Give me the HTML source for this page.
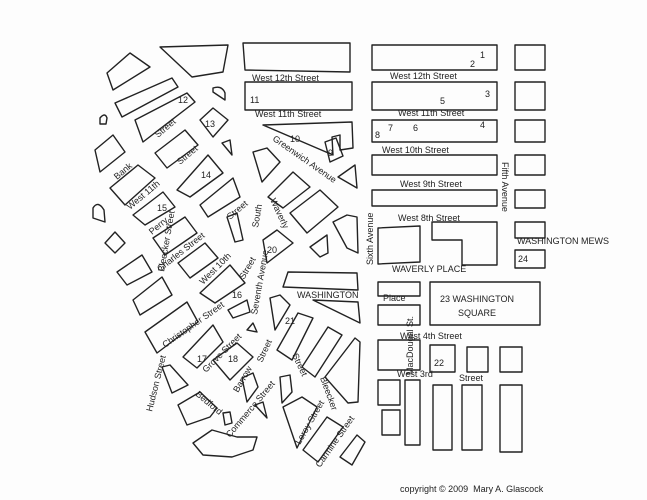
<!DOCTYPE html>
<html><head><meta charset="utf-8"><style>
html,body{margin:0;padding:0;background:#fff}
svg{display:block}
text{font-family:"Liberation Sans",sans-serif;font-size:9px;fill:#222}
</style></head><body>
<svg width="647" height="500" viewBox="0 0 647 500" xmlns="http://www.w3.org/2000/svg">
<rect width="647" height="500" fill="#fdfdfd"/>
<g fill="none" stroke="#222" stroke-width="1.4" stroke-linejoin="round">
<rect x="372" y="45" width="125" height="25"/>
<rect x="515" y="45" width="30" height="25"/>
<rect x="372" y="82" width="125" height="28"/>
<rect x="515" y="82" width="30" height="28"/>
<rect x="372" y="120" width="125" height="22"/>
<rect x="515" y="120" width="30" height="22"/>
<rect x="372" y="155" width="125" height="20"/>
<rect x="515" y="155" width="30" height="20"/>
<rect x="372" y="190" width="125" height="16"/>
<rect x="515" y="190" width="30" height="18"/>
<polygon points="378,228 420,226 420,262 378,264"/>
<polygon points="432,222 497,222 497,265 462,265 462,240 432,240"/>
<rect x="515" y="222" width="30" height="16"/>
<rect x="515" y="250" width="30" height="18"/>
<rect x="378" y="282" width="42" height="14"/>
<rect x="378" y="305" width="42" height="20"/>
<rect x="430" y="282" width="110" height="43"/>
<rect x="378" y="340" width="42" height="30"/>
<rect x="430" y="345" width="25" height="27"/>
<rect x="467" y="347" width="21" height="25"/>
<rect x="500" y="347" width="22" height="25"/>
<rect x="378" y="380" width="22" height="25"/>
<rect x="382" y="410" width="18" height="25"/>
<rect x="405" y="380" width="15" height="65"/>
<rect x="433" y="385" width="19" height="65"/>
<rect x="462" y="385" width="20" height="65"/>
<rect x="500" y="385" width="22" height="67"/>
<polygon points="243,43 350,43 350,72 245,70"/>
<polygon points="245,82 352,82 352,110 245,110"/>
<polygon points="263,125 352,122 353,148 340,150 340,135 332,137 333,155"/>
<polygon points="325,142 336,138 343,156 330,162"/>
<polygon points="338,177 355,165 357,188"/>
<polygon points="107,73 130,53 150,67 113,90"/>
<polygon points="115,103 172,78 178,87 122,117"/>
<polygon points="135,120 187,93 195,102 143,142"/>
<polygon points="160,47 228,45 223,72 192,77"/>
<path d="M213,88 Q222,85 225,93 L225,100 L213,92 Z"/>
<polygon points="200,120 213,108 228,120 213,137"/>
<polygon points="222,143 230,140 232,155"/>
<path d="M100,118 Q105,112 107,118 L106,124 L100,124 Z"/>
<polygon points="95,150 113,135 125,152 100,172"/>
<polygon points="110,188 138,165 155,178 125,205"/>
<polygon points="133,215 163,192 175,207 145,225"/>
<polygon points="153,238 185,217 197,233 165,255"/>
<polygon points="177,190 208,155 223,173 190,197"/>
<polygon points="155,153 185,130 198,145 167,168"/>
<polygon points="200,205 233,178 240,197 208,217"/>
<path d="M93,208 Q98,200 104,210 L105,222 L93,218 Z"/>
<polygon points="105,243 115,232 125,243 115,253"/>
<polygon points="253,152 267,148 280,162 262,182"/>
<polygon points="268,197 293,172 310,187 283,208"/>
<polygon points="290,213 320,190 338,207 307,233"/>
<polygon points="263,240 277,230 293,243 267,263"/>
<polygon points="310,247 327,235 328,253 320,257"/>
<polygon points="333,222 347,215 357,217 358,253 347,248"/>
<polygon points="227,217 237,213 243,240 235,242"/>
<polygon points="117,272 142,255 152,272 127,285"/>
<polygon points="133,300 162,277 172,295 140,315"/>
<polygon points="145,332 187,302 198,322 157,353"/>
<polygon points="178,263 205,243 218,258 190,278"/>
<polygon points="200,293 230,265 245,283 215,303"/>
<polygon points="228,310 247,300 250,312 233,318"/>
<polygon points="183,357 213,325 223,342 197,368"/>
<polygon points="247,330 253,323 257,332"/>
<polygon points="270,298 280,295 290,305 275,330"/>
<polygon points="288,272 357,273 358,290 283,287"/>
<polygon points="313,300 358,302 360,323"/>
<polygon points="213,360 237,343 253,357 230,380"/>
<polygon points="277,350 298,313 313,318 292,360"/>
<polygon points="302,367 328,327 342,335 315,377"/>
<polygon points="325,377 355,338 360,342 358,402 348,403"/>
<polygon points="280,377 290,375 292,392 282,403"/>
<polygon points="283,407 302,397 317,407 297,448"/>
<polygon points="303,450 327,417 343,427 318,462"/>
<polygon points="340,457 357,435 365,442 352,465"/>
<polygon points="162,367 170,365 188,385 172,393"/>
<polygon points="178,405 200,392 217,408 210,417 187,425"/>
<polygon points="242,378 253,373 258,387 247,402"/>
<polygon points="255,405 263,402 267,418"/>
<polygon points="223,413 230,412 232,423 225,425"/>
<polygon points="193,443 212,430 237,437 257,437 253,450 232,457 203,455"/>
</g>
<text x="252" y="81">West 12th Street</text>
<text x="390" y="79">West 12th Street</text>
<text x="255" y="117">West 11th Street</text>
<text x="398" y="116">West 11th Street</text>
<text x="382" y="153">West 10th Street</text>
<text x="400" y="187">West 9th Street</text>
<text x="398" y="221">West 8th Street</text>
<text x="392" y="272">WAVERLY PLACE</text>
<text x="383" y="301">Place</text>
<text x="440" y="302" font-size="10">23 WASHINGTON</text>
<text x="458" y="316" font-size="10">SQUARE</text>
<text x="400" y="339">West 4th Street</text>
<text x="397" y="377">West 3rd</text>
<text x="459" y="381">Street</text>
<text x="517" y="244" font-size="7">WASHINGTON MEWS</text>
<text x="297" y="298" font-size="8">WASHINGTON</text>
<text x="480" y="58">1</text><text x="470" y="67">2</text><text x="485" y="97">3</text>
<text x="440" y="104">5</text><text x="480" y="128">4</text>
<text x="375" y="138">8</text><text x="388" y="131">7</text><text x="413" y="131">6</text>
<text x="250" y="103">11</text><text x="290" y="142">10</text><text x="328" y="156">9</text>
<text x="178" y="103">12</text><text x="205" y="127">13</text><text x="201" y="178">14</text>
<text x="157" y="211">15</text><text x="232" y="298">16</text><text x="197" y="362">17</text>
<text x="228" y="362">18</text><text x="267" y="253">20</text><text x="285" y="324">21</text>
<text x="434" y="366">22</text><text x="518" y="262">24</text>
<text x="400" y="492">copyright © 2009 &#160;Mary A. Glascock</text>
<g>
<text transform="translate(373,265) rotate(-90)">Sixth Avenue</text>
<text transform="translate(413,375) rotate(-90)">MacDougal St.</text>
<text transform="translate(502,162) rotate(90)">Fifth Avenue</text>
<text transform="translate(152,412) rotate(-76)" font-size="11">Hudson Street</text>
<text transform="translate(117,180) rotate(-40)">Bank</text>
<text transform="translate(130,210) rotate(-40)">West 11th</text>
<text transform="translate(152,235) rotate(-40)">Perry</text>
<text transform="translate(160,272) rotate(-38)">Charles Street</text>
<text transform="translate(164,272) rotate(-80)">Bleecker Street</text>
<text transform="translate(203,285) rotate(-45)">West 10th</text>
<text transform="translate(230,220) rotate(-40)">Street</text>
<text transform="translate(180,165) rotate(-40)">Street</text>
<text transform="translate(158,138) rotate(-40)">Street</text>
<text transform="translate(165,348) rotate(-35)">Christopher Street</text>
<text transform="translate(206,373) rotate(-45)">Grove Street</text>
<text transform="translate(257,315) rotate(-80)">Seventh Avenue</text>
<text transform="translate(258,228) rotate(-80)">South</text>
<text transform="translate(244,280) rotate(-60)">Street</text>
<text transform="translate(270,200) rotate(65)">Waverly</text>
<text transform="translate(272,140) rotate(35)">Greenwich Avenue</text>
<text transform="translate(262,363) rotate(-65)">Street</text>
<text transform="translate(238,393) rotate(-60)">Barrow</text>
<text transform="translate(195,395) rotate(40)">Bedford</text>
<text transform="translate(230,438) rotate(-50)">Commerce Street</text>
<text transform="translate(292,355) rotate(65)">Street</text>
<text transform="translate(320,378) rotate(70)">Bleecker</text>
<text transform="translate(300,445) rotate(-60)">Leroy Street</text>
<text transform="translate(320,468) rotate(-55)">Carmine Street</text>
</g>
</svg>
</body></html>
